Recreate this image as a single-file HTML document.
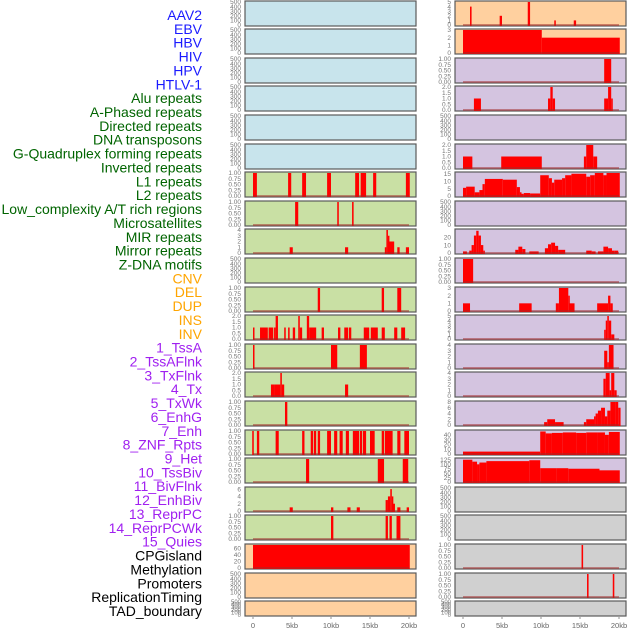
<!DOCTYPE html>
<html><head><meta charset="utf-8">
<style>
body{margin:0;background:#fff;width:630px;height:630px;overflow:hidden;font-family:"Liberation Sans",sans-serif;}
svg{display:block}
</style></head>
<body>
<svg id="chart" width="630" height="630"></svg>
<script>
const labels=["AAV2","EBV","HBV","HIV","HPV","HTLV-1","Alu repeats","A-Phased repeats","Directed repeats","DNA transposons","G-Quadruplex forming repeats","Inverted repeats","L1 repeats","L2 repeats","Low_complexity A/T rich regions","Microsatellites","MIR repeats","Mirror repeats","Z-DNA motifs","CNV","DEL","DUP","INS","INV","1_TssA","2_TssAFlnk","3_TxFlnk","4_Tx","5_TxWk","6_EnhG","7_Enh","8_ZNF_Rpts","9_Het","10_TssBiv","11_BivFlnk","12_EnhBiv","13_ReprPC","14_ReprPCWk","15_Quies","CPGisland","Methylation","Promoters","ReplicationTiming","TAD_boundary"];
const labelColors=["#1a1aff","#1a1aff","#1a1aff","#1a1aff","#1a1aff","#1a1aff","#006400","#006400","#006400","#006400","#006400","#006400","#006400","#006400","#006400","#006400","#006400","#006400","#006400","#ffa500","#ffa500","#ffa500","#ffa500","#ffa500","#a020f0","#a020f0","#a020f0","#a020f0","#a020f0","#a020f0","#a020f0","#a020f0","#a020f0","#a020f0","#a020f0","#a020f0","#a020f0","#a020f0","#a020f0","#000","#000","#000","#000","#000"];
const xTicks=[0,5,10,15,20];
const xTickLabels=["0","5kb","10kb","15kb","20kb"];
const T500=[0,100,200,300,400,500], T1=[0,0.25,0.5,0.75,1], T2=[0,0.5,1,1.5,2];
const leftBg=["#c8e4ec","#c8e4ec","#c8e4ec","#c8e4ec","#c8e4ec","#c8e4ec","#c9e0a4","#c9e0a4","#c9e0a4","#c9e0a4","#c9e0a4","#c9e0a4","#c9e0a4","#c9e0a4","#c9e0a4","#c9e0a4","#c9e0a4","#c9e0a4","#c9e0a4","#ffd09f","#ffd09f","#ffd09f"];
const rightBg=["#ffd09f","#ffd09f","#d4c4e0","#d4c4e0","#d4c4e0","#d4c4e0","#d4c4e0","#d4c4e0","#d4c4e0","#d4c4e0","#d4c4e0","#d4c4e0","#d4c4e0","#d4c4e0","#d4c4e0","#d4c4e0","#d4c4e0","#d0d0d0","#d0d0d0","#d0d0d0","#d0d0d0","#d0d0d0"];
const leftTicks=[T500,T500,T500,T500,T500,T500,T1,T1,[0,1,2,3,4],T500,T1,T2,T1,T2,T1,T1,T1,[0,2,4,6],T1,[0,20,40,60],T500,T500];
const leftMax=[500,500,500,500,500,500,1,1,4,500,1,2,1,2,1,1,1,6.3,1,70,500,500];
const rightTicks=[[0,1,2,3,4,5],[0,1,2,3],T1,T2,T500,T2,[0,5,10,15],T500,[0,10,20],T1,[0,1,2,3],[0,1,2,3,4,5],[0,1,2,3,4],[0,1,2,3,4],[0,2,4,6,8],[0,10,20,30,40],[0,25,50,75,100,125],T500,T500,T1,T1,T500];
const rightMax=[5,3,1,2,500,2,15.5,500,29,1,3,5,4,4,8,48,130,500,500,1,1,500];
// segments: [startKb, endKb, value]
const leftSegs=[[],[],[],[],[],[],
[[0,0.5,1],[4.5,4.9,1],[6.3,6.8,1],[9.5,10,1],[13.1,13.6,1],[13.8,14.5,1],[15.4,15.8,1],[19.6,20.1,1]],
[[5.4,5.8,1],[10.8,11,1],[12.7,12.9,1]],
[[4.7,5.1,1],[11.8,12.2,1],[16.9,17.1,1],[17.1,17.3,4],[17.3,17.4,3],[17.4,18.1,2],[18.5,18.8,1],[19.6,20,1]],
[],
[[8.3,8.6,1],[16.5,16.8,1],[18.5,19,1]],
[[0,0.1,1],[0.9,1.9,1],[2,2.6,1],[2.7,2.9,1],[2.9,3.2,2],[4,4.2,1],[4.5,4.7,1],[5.1,5.4,1],[5.8,6,2],[6,6.3,1],[6.9,7.2,2],[7.2,8.1,1],[8.8,9.1,1],[10.9,11.2,1],[11.7,12.2,1],[12.3,12.6,1],[14.2,14.9,1],[15.1,16,1],[16.5,16.9,1],[18.1,18.5,1],[19,19.5,1]],
[[0,0.1,1],[10,10.8,1],[13.7,14.6,1]],
[[2.3,2.7,1],[2.7,3.5,1],[3.5,3.7,2],[3.7,4,1],[11.8,12.2,1]],
[[4.1,4.4,1]],
[[-0.1,0.1,1],[0.5,0.8,1],[2.9,3.3,1],[6.3,6.6,1],[7.4,7.7,1],[7.8,8.1,1],[8.3,8.6,1],[9.5,10,1],[10.4,10.8,1],[11.1,11.5,1],[11.9,12.3,1],[12.8,13.6,1],[13.7,14,1],[14.1,14.5,1],[15,15.6,1],[16.5,16.8,1],[16.9,17.9,1],[18.5,18.9,1],[19.4,20,1]],
[[6.8,7.2,1],[16,16.8,1],[19.2,19.9,1]],
[[4.7,5.1,1],[10,10.3,1],[12.1,12.5,1],[13.3,13.7,1],[17,17.3,3],[17.3,17.6,4],[17.6,17.8,6],[17.8,17.9,4],[17.9,18.2,2],[18.5,18.9,1],[19.7,20,1]],
[[10,10.3,1],[17,17.3,1],[17.5,17.8,1],[18.4,18.9,1]],
[[0,20.1,70]],
[],[]];
const rightSegs=[
[[0.9,1.1,4],[4.7,5,2],[8.3,8.6,5],[11.7,11.9,1],[14.2,14.5,1]],
[[0,10.1,3],[10.1,20.1,2]],
[[18.1,19,1]],
[[1.4,2.3,1],[10.9,11.2,1],[11.2,11.5,2],[11.5,11.8,1],[18.1,18.6,1],[18.6,19,2],[19,19.2,1]],
[],
[[0,1.2,1],[4.9,10.1,1],[15.5,15.8,1],[15.8,16.7,2],[16.7,17.2,1]],
[[0,0.4,5.5],[0.4,1.5,6.3],[1.5,2.1,2.5],[2.1,2.5,4],[2.5,2.8,8],[2.8,5.1,11.5],[5.1,6.9,11],[6.9,7.3,6],[7.3,7.5,2.5],[7.5,7.8,1.5],[7.8,8.6,2],[8.6,9.9,1.7],[9.9,11,14],[11,11.4,12],[11.4,11.7,9],[11.7,12.7,11],[12.7,13.1,12],[13.1,13.9,14],[13.9,15.8,15],[15.8,16.3,13],[16.3,16.9,14],[16.9,18,15.5],[18,18.4,14],[18.4,20.1,15.5]],
[],
[[0,0.5,2],[0.8,1.1,3],[1.1,1.4,10],[1.4,1.7,22],[1.7,2,28],[2,2.3,22],[2.3,2.6,10],[2.6,2.8,3],[6.7,7.1,4],[7.1,7.6,8],[7.6,8,5],[8.5,9.7,2],[10.5,10.9,6],[10.9,11.3,11],[11.3,11.8,13],[11.8,12.2,9],[12.2,13.1,4],[15.8,16.5,3],[16.5,17,2],[17.3,18,2],[18,18.6,8],[18.6,19.1,6],[19.1,19.4,3],[19.4,19.9,3]],
[[0,1.3,1]],
[[0,0.9,1],[7.2,8.8,1],[11.9,12.3,1],[12.3,13.5,3],[13.5,13.6,2],[13.6,14.3,1],[17.2,18.6,1],[18.6,18.9,2],[18.9,19.2,1]],
[[18.1,18.3,2],[18.3,18.5,4],[18.5,18.7,5],[18.7,19,4],[19,19.4,1]],
[[18.1,18.5,3],[18.5,18.7,1],[18.7,19.3,4]],
[[18,18.3,3],[18.3,18.8,4],[18.8,19,1],[19,19.4,4],[19.4,19.7,1]],
[[10.4,10.8,1],[10.8,11.8,2],[11.8,12.9,1],[15.5,15.8,1],[15.8,16.8,2],[16.8,17,3],[17,17.3,4],[17.3,17.7,5],[17.7,18.2,6],[18.2,18.5,3],[18.5,18.9,5],[18.9,19.5,8],[19.5,19.9,8],[19.9,20.2,6]],
[[0,9.9,5],[9.9,10.6,47],[10.6,11.4,43],[11.4,12.8,44],[12.8,14.5,45],[14.5,15.8,44],[15.8,17.3,45],[17.3,18.2,45],[18.2,18.7,40],[18.7,20.1,46]],
[[0,1.2,126],[1.2,1.8,115],[1.8,2.1,100],[2.1,3,110],[3,8.5,118],[8.5,9.9,123],[9.9,12,78],[12,13.5,78],[13.5,17.5,75],[17.5,20.1,66]],
[],[],
[[15.2,15.4,1]],
[[15.9,16.1,1],[19.2,19.4,1]],
[]];

const NS="http://www.w3.org/2000/svg";
const svg=document.getElementById("chart");
function el(tag,attrs,parent){const e=document.createElementNS(NS,tag);for(const k in attrs)e.setAttribute(k,attrs[k]);(parent||svg).appendChild(e);return e;}
labels.forEach((t,k)=>{
  const e=el("text",{x:202,y:15+k*13.86+5,"text-anchor":"end","font-size":"14",fill:labelColors[k]});
  
  
  e.textContent=t;
});
const PW=171;
function xScale(x0,kb){return x0+8+kb*7.8;}
function decimals(arr){let d=0;arr.forEach(v=>{const s=String(v);if(s.includes('.'))d=Math.max(d,s.split('.')[1].length);});return d;}
function drawPanel(side,r,x0,bg,ticks,ymax,segs){
  const top=Math.round(0.5+r*28.6);
  const h=r===21?15:25;
  const g=el("g",{});
  
  
  el("rect",{x:x0,y:top,width:PW,height:h,fill:bg,stroke:"#5a5a5a","stroke-width":1.2},g);
  const y0=top+h-1, y1=top+1;
  const yS=v=>y0-(v/ymax)*(y0-y1);
  if(r!==21){
    const d=decimals(ticks);
    ticks.forEach(t=>{
      const tl=el("text",{x:x0-4,y:yS(t)+2.2,"text-anchor":"end","font-size":"6.5",fill:"#777"},g);
      
      
      tl.textContent=t.toFixed(d);
    });
  } else {
    [0,100,200,300,400,500].forEach(t=>{
      const tl=el("text",{x:x0-4,y:y0-(t/500)*(h-2)+2,"text-anchor":"end","font-size":"6",fill:"#777"},g);
      
      
      tl.textContent=t;
    });
  }
  if(segs.length){
    segs.forEach(s=>{
      const xa=xScale(x0,s[0]),xb=xScale(x0,s[1]);
      const b=el("rect",{x:xa,y:yS(s[2]),width:Math.max(1.5,xb-xa),height:y0-yS(s[2])+1,fill:"#ff0000"},g);
      
      
    });
    el("line",{x1:xScale(x0,0),x2:xScale(x0,20),y1:y0,y2:y0,stroke:"rgba(160,40,40,0.5)","stroke-width":2},g);
  }
}
for(let r=0;r<22;r++){
  drawPanel('left',r,245,leftBg[r],leftTicks[r],leftMax[r],leftSegs[r]);
  drawPanel('right',r,455,rightBg[r],rightTicks[r],rightMax[r],rightSegs[r]);
}
[245,455].forEach((x0,i)=>{
  xTicks.forEach((t,j)=>{
    const x=xScale(x0,t);
    el("line",{x1:x,x2:x,y1:617,y2:619,stroke:"#777","stroke-width":0.8});
    const tl=el("text",{x:x,y:628,"text-anchor":"middle","font-size":"7.5",fill:"#666"});
    
    
    tl.textContent=xTickLabels[j];
  });
});
</script>
</body></html>
